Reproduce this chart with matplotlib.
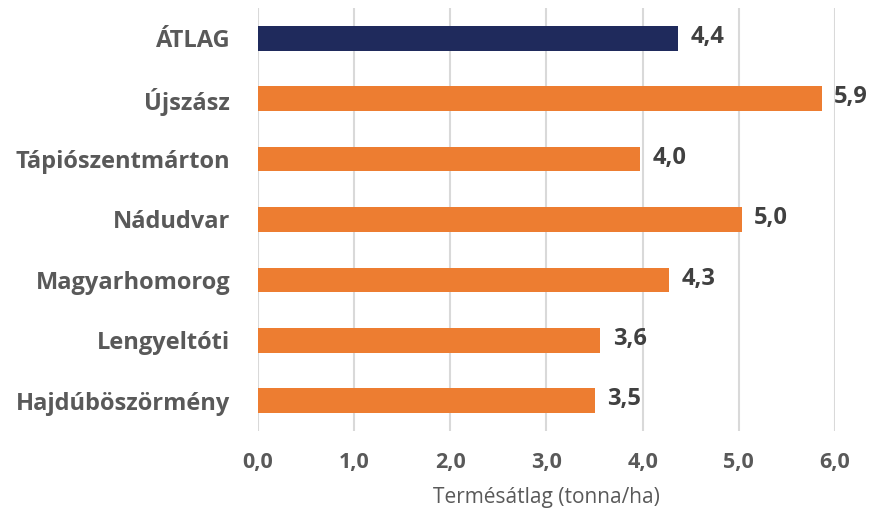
import matplotlib
matplotlib.use("Agg")
import matplotlib.pyplot as plt

categories = ["ÁTLAG", "Újszász", "Tápiószentmárton", "Nádudvar", "Magyarhomorog", "Lengyeltóti", "Hajdúböszörmény"]
values = [4.37, 5.86, 3.97, 5.03, 4.27, 3.56, 3.50]
value_labels = ["4,4", "5,9", "4,0", "5,0", "4,3", "3,6", "3,5"]
xticks = [0, 1, 2, 3, 4, 5, 6]
xtick_labels = ["0,0", "1,0", "2,0", "3,0", "4,0", "5,0", "6,0"]
xlabel = "Termésátlag (tonna/ha)"

plt.rcParams['font.family'] = ['Open Sans', 'DejaVu Sans']

fig = plt.figure(figsize=(8.7, 5.16), dpi=100)
ax = fig.add_axes([258/870, 1-431/516, (835-258)/870, (431-8)/516])

colors = ["#1F2A5C"] + ["#ED7D31"] * (len(categories) - 1)
ypos = list(range(len(categories)))
ax.barh(ypos, values, height=0.41, color=colors, zorder=3)
ax.set_ylim(len(categories) - 0.5, -0.5)
ax.set_xlim(0, 6)

for y, v, lab in zip(ypos, values, value_labels):
    ax.annotate(lab, (v, y), xytext=(9, 1), textcoords="offset points",
                va="center", ha="left", fontsize=17, fontweight="bold", color="#404040")

ax.set_yticks(ypos)
ax.set_yticklabels(categories, fontsize=17, fontweight="bold", color="#595959")
ax.set_xticks(xticks)
ax.set_xticklabels(xtick_labels, fontsize=15.5, fontweight="bold", color="#595959")
ax.tick_params(axis="y", length=0, pad=20)
ax.tick_params(axis="x", length=0, pad=15)
ax.set_xlabel(xlabel, fontsize=15, color="#595959", labelpad=10)

ax.grid(axis="x", color="#D9D9D9", linewidth=1.5, zorder=0)
for s in ax.spines.values():
    s.set_visible(False)

fig.savefig("out.png", dpi=100)
